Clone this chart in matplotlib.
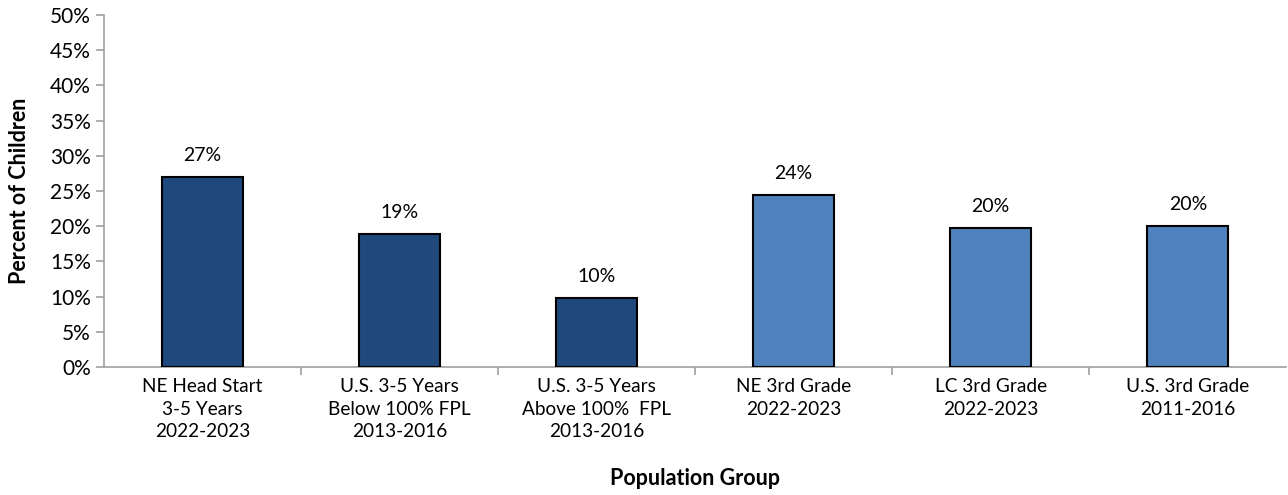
import numpy as np
import matplotlib.pyplot as plt
from matplotlib.ticker import PercentFormatter

plt.rcParams['font.family'] = ['Lato', 'DejaVu Sans']

groups = ['NE Head Start\n3-5 Years\n2022-2023',
          'U.S. 3-5 Years\nBelow 100% FPL\n2013-2016',
          'U.S. 3-5 Years\nAbove 100%  FPL\n2013-2016',
          'NE 3rd Grade\n2022-2023',
          'LC 3rd Grade\n2022-2023',
          'U.S. 3rd Grade\n2011-2016']
values = [27.0, 18.9, 9.8, 24.4, 19.7, 20.0]
labels = ['27%', '19%', '10%', '24%', '20%', '20%']
colors = ['#1F497D'] * 3 + ['#4F81BD'] * 3

fig = plt.figure(figsize=(12.88, 4.95), dpi=100)
ax = fig.add_axes([0.0807, 0.2586, 0.918, 0.711])

x = np.arange(len(values))
bars = ax.bar(x, values, width=0.41, color=colors, edgecolor='black', linewidth=1.5, zorder=3)
for i, b in enumerate(bars):
    ax.text(b.get_x() + b.get_width() / 2, values[i] + 1.9, labels[i],
            ha='center', va='bottom', fontsize=14)

ax.set_xlim(-0.5, len(values) - 0.5)
ax.set_ylim(0, 50)
ax.set_yticks(np.arange(0, 51, 5))
ax.yaxis.set_major_formatter(PercentFormatter(decimals=0))
ax.set_xticks(x)
ax.set_xticklabels(groups, fontsize=13.7, linespacing=1.4)
ax.set_xticks(np.arange(0.5, len(values) - 0.5, 1), minor=True)
ax.tick_params(axis='x', which='major', length=0, pad=8)
ax.tick_params(axis='x', which='minor', length=6, color='#A0A0A0', width=1.2)
ax.tick_params(axis='y', length=6, color='#A0A0A0', width=1.2, labelsize=15)

for s in ['top', 'right']:
    ax.spines[s].set_visible(False)
for s in ['left', 'bottom']:
    ax.spines[s].set_color('#A0A0A0')
    ax.spines[s].set_linewidth(1.2)

ax.set_ylabel('Percent of Children', fontsize=15.5, fontweight='bold', labelpad=14)
ax.set_xlabel('Population Group', fontsize=15.5, fontweight='bold', labelpad=20)

fig.savefig('out.png', dpi=100)
